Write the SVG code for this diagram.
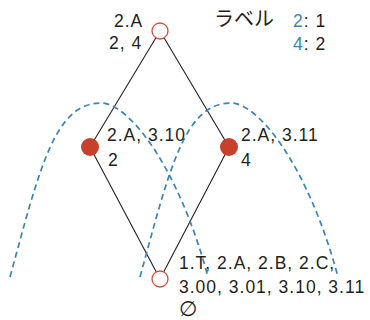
<svg xmlns="http://www.w3.org/2000/svg" width="370" height="320" viewBox="0 0 370 320">
  <style>
    .t { font-family: "Liberation Sans", "Noto Sans CJK JP", sans-serif; font-size: 17.5px; fill: #231f20; letter-spacing: 1px; }
    .jp { font-family: "Noto Sans CJK JP", sans-serif; font-size: 20px; fill: #231f20; }
    .empty { font-family: "DejaVu Sans", sans-serif; font-size: 21px; fill: #231f20; }
    .blue { fill: #3b84b3; }
    .edge { stroke: #231f20; stroke-width: 1.1; fill: none; }
    .arc { stroke: #3b84b3; stroke-width: 1.7; fill: none; stroke-dasharray: 6 4; }
    .open { fill: #ffffff; stroke: #d4503a; stroke-width: 1.3; }
    .full { fill: #c8402b; stroke: none; }
  </style>
  <defs>
    <path id="arcShape" d="M10,277 C40,167 55,103 101,103 C128,103 178,165 208,277"/>
  </defs>

  <g id="connectors">
    <line class="edge" x1="160" y1="31" x2="90" y2="147"/>
    <line class="edge" x1="160" y1="31" x2="229" y2="147"/>
    <line class="edge" x1="90" y1="147" x2="160" y2="279"/>
    <line class="edge" x1="229" y1="147" x2="160" y2="279"/>
  </g>

  <g id="arcs">
    <use href="#arcShape" class="arc"/>
    <use href="#arcShape" class="arc" transform="translate(130,0)"/>
  </g>

  <g id="node-top">
    <circle class="open" cx="160" cy="31" r="8"/>
    <text class="t" x="114" y="27">2.A</text>
    <text class="t" x="109" y="49">2, 4</text>
  </g>

  <g id="node-left">
    <circle class="full" cx="90" cy="147" r="9"/>
    <text class="t" x="107" y="141">2.A, 3.10</text>
    <text class="t" x="108" y="166">2</text>
  </g>

  <g id="node-right">
    <circle class="full" cx="229" cy="147" r="9"/>
    <text class="t" x="241" y="141">2.A, 3.11</text>
    <text class="t" x="241" y="166">4</text>
  </g>

  <g id="node-bottom">
    <circle class="open" cx="160" cy="279" r="8"/>
    <text class="t" x="179" y="269">1.T, 2.A, 2.B, 2.C,</text>
    <text class="t" x="179" y="293">3.00, 3.01, 3.10, 3.11</text>
    <text class="empty" x="179" y="316">∅</text>
  </g>

  <g id="legend">
    <text class="jp" x="214" y="26">ラベル</text>
    <text class="t" x="293" y="27"><tspan class="blue">2</tspan>: 1</text>
    <text class="t" x="293" y="50"><tspan class="blue">4</tspan>: 2</text>
  </g>
</svg>
